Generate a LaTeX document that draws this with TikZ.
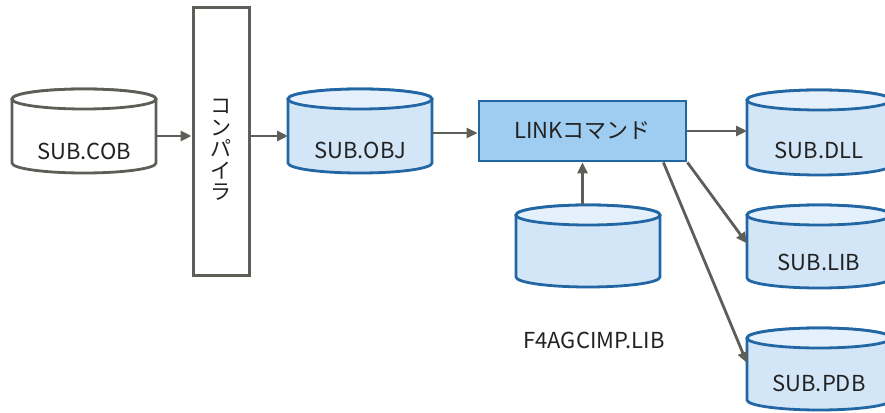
\documentclass[tikz,border=0pt]{standalone}
\usepackage{fontspec}
\setmainfont{Noto Sans CJK JP}
\usetikzlibrary{arrows.meta,calc}
\definecolor{lnc}{HTML}{5E5E58}
\definecolor{cylbody}{HTML}{D2E6F8}
\definecolor{cyltop}{HTML}{E4F0FB}
\definecolor{cylborder}{HTML}{2366A4}
\definecolor{linkfill}{HTML}{9FCDF2}
\definecolor{txt}{HTML}{222222}
\newcommand\drawcyl[4]{%
  \path[fill=#2,draw=#4,line width=2.8pt] (#1.north west) -- ([yshift=10pt]#1.south west)
    arc[start angle=180,end angle=360,x radius=72pt,y radius=10pt] -- (#1.north east)
    arc[start angle=0,end angle=180,x radius=72pt,y radius=10pt] -- cycle;
  \draw[fill=#3,draw=#4,line width=2.8pt] (#1.north) ellipse[x radius=72pt,y radius=10pt];
}
\tikzset{
  lbl/.style={font=\fontsize{22pt}{26pt}\selectfont, text=txt},
  cylnode/.style={minimum width=144pt, inner sep=0pt, outer sep=0pt},
  arr/.style={draw=lnc, line width=2.8pt, -{Triangle[length=11pt,width=10pt]}},
}
\begin{document}
\begin{tikzpicture}[x=1pt,y=1pt]
\useasboundingbox (0,0) rectangle (885,412);
% nodes (cylinder body rectangles)
\node[cylnode, minimum height=74pt] (cob) at (84,276) {};
\node[cylnode, minimum height=74pt] (obj) at (360,276) {};
\node[cylnode, minimum height=72pt] (imp) at (588,161) {};
\node[cylnode, minimum height=75pt] (dll) at (819,274.5) {};
\node[cylnode, minimum height=73pt] (lib) at (819,160.5) {};
\node[cylnode, minimum height=72pt] (pdb) at (819,38) {};
% draw cylinders
\drawcyl{cob}{white}{white}{lnc}
\drawcyl{obj}{cylbody}{cyltop}{cylborder}
\drawcyl{imp}{cylbody}{cyltop}{cylborder}
\drawcyl{dll}{cylbody}{cyltop}{cylborder}
\drawcyl{lib}{cylbody}{cyltop}{cylborder}
\drawcyl{pdb}{cylbody}{cyltop}{cylborder}
% labels
\node[lbl] (cobt) at ([yshift=-15pt]cob.center) {SUB.COB};
\node[lbl] (objt) at ([yshift=-14pt]obj.center) {SUB.OBJ};
\node[lbl] (dllt) at ([yshift=-13pt]dll.center) {SUB.DLL};
\node[lbl] (libt) at ([yshift=-11pt]lib.center) {SUB.LIB};
\node[lbl] (pdbt) at ([yshift=-9pt]pdb.center) {SUB.PDB};
\node[lbl] (impl) at (594,72) {F4AGCIMP.LIB};
% compiler box
\node[draw=lnc, line width=3pt, fill=white, minimum width=56pt, minimum height=268pt, inner sep=0pt] (comp) at (221,270) {};
\node[lbl, align=center, font=\fontsize{21pt}{21.5pt}\selectfont] (compt) at (221,262) {コ\\ン\\パ\\イ\\ラ};
% link box
\node[draw=cylborder, line width=2.8pt, fill=linkfill, minimum width=207pt, minimum height=60pt, inner sep=0pt, lbl] (link) at (582.5,281) {LINKコマンド};
% connectors
\draw[arr] (cob.east) -- (cob.east -| comp.west);
\draw[arr] (obj.west -| comp.east) -- (obj.west);
\draw[arr] ([yshift=3pt]obj.east) -- ([yshift=3pt]obj.east -| link.west);
\draw[arr] (link.east) -- (link.east -| dll.west);
\draw[arr] (link.south east) -- ([yshift=8pt]lib.west);
\draw[arr] ([xshift=-24pt]link.south east) -- ([yshift=11pt]pdb.west);
\draw[arr] ([yshift=10pt]imp.north -| link.south) -- (link.south);
\end{tikzpicture}
\end{document}
